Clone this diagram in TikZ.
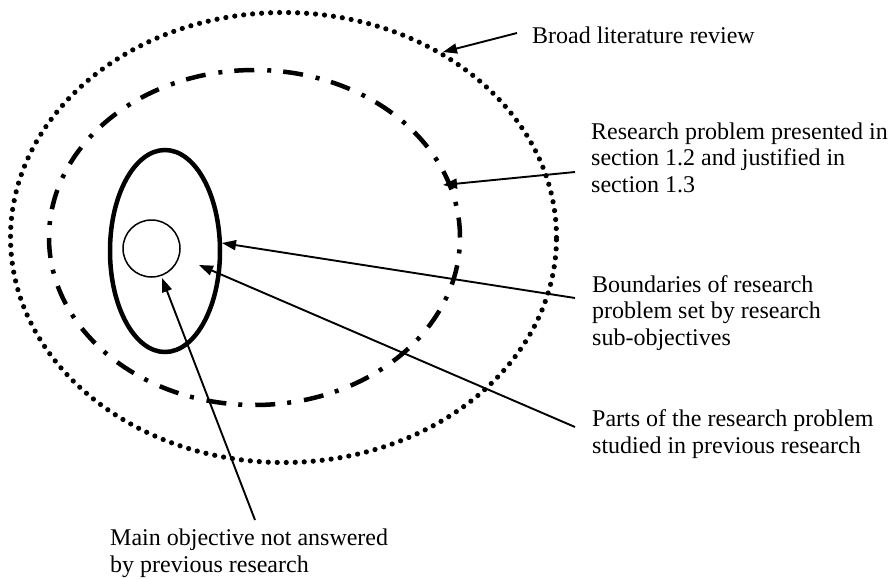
\documentclass[tikz,border=0pt]{standalone}
\usepackage{fontspec}
\setmainfont{Liberation Serif}
\usetikzlibrary{arrows.meta}
\begin{document}
\begin{tikzpicture}[x=1pt,y=-1pt,
  % multi-line captions are placed by the baseline of their last line
  caption/.style={font=\fontsize{24}{26.5}\selectfont, inner sep=0pt, align=left, anchor=base west},
  pointer/.style={line width=1.9pt, -{Triangle[length=14pt,width=10pt]}},
  dotline/.style={line width=5.2pt, line cap=round, dash pattern=on 0pt off 9pt},
  dashdotline/.style={line width=4.5pt, line cap=butt, dash pattern=on 20pt off 12pt on 4pt off 13pt},
  thickline/.style={line width=4.5pt},
  thinline/.style={line width=1.5pt}]
\useasboundingbox (0,0) rectangle (896,578);

% nested regions
\draw[dotline] (283.5,237.5) ellipse [x radius=273pt, y radius=225pt];
\draw[dashdotline] (254.5,237.5) ellipse [x radius=205.5pt, y radius=167.5pt];
\draw[thickline] (165,251) ellipse [x radius=55pt, y radius=101pt];
\draw[thinline] (151.5,248.5) circle [radius=28.5pt];

% captions
\node[caption] (broad) at (532,44) {Broad literature review};
\node[caption] (problem) at (591,192) {Research problem presented in\\section 1.2 and justified in\\section 1.3};
\node[caption] (bounds) at (592,345) {Boundaries of research\\problem set by research\\sub-objectives};
\node[caption] (parts) at (592,453) {Parts of the research problem\\studied in previous research};
\node[caption] (mainobj) at (110,572) {Main objective not answered\\by previous research};

% arrow ends
\coordinate (broadTail) at (517,33);
\coordinate (broadTip) at (443,52);
\coordinate (problemTail) at (575,172);
\coordinate (problemTip) at (443,185);
\coordinate (boundsTail) at (575,298);
\coordinate (boundsTip) at (222,243);
\coordinate (partsTail) at (575,427);
\coordinate (partsTip) at (199,265);
\coordinate (mainTail) at (255,520);
\coordinate (mainTip) at (162,278);

% pointers
\draw[pointer] (broadTail) -- (broadTip);
\draw[pointer] (problemTail) -- (problemTip);
\draw[pointer] (boundsTail) -- (boundsTip);
\draw[pointer] (partsTail) -- (partsTip);
\draw[pointer] (mainTail) -- (mainTip);
\end{tikzpicture}
\end{document}
